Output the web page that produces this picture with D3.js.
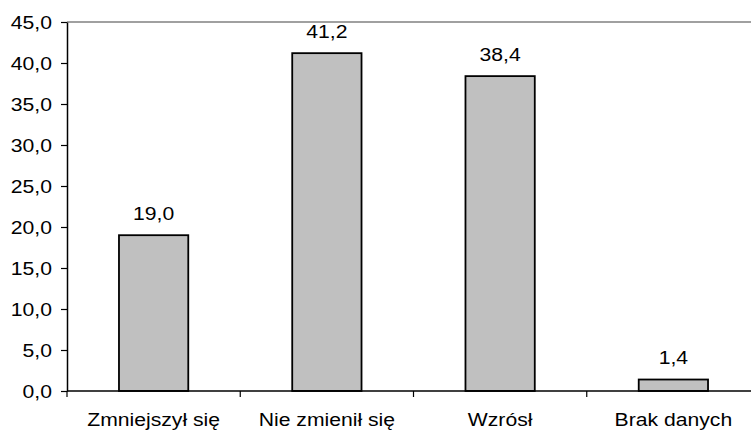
<!DOCTYPE html>
<html><head><meta charset="utf-8">
<script src="https://cdn.jsdelivr.net/npm/d3@7"></script>
<style>html,body{margin:0;padding:0;background:#fff;overflow:hidden}</style>
</head><body>
<svg id="c" width="751" height="431"></svg>
<script>
const categories = ["Zmniejszył się", "Nie zmienił się", "Wzrósł", "Brak danych"];
const values = [19.0, 41.2, 38.4, 1.4];
const yTicks = [0, 5, 10, 15, 20, 25, 30, 35, 40, 45];

const SX = 1.21, FS = 17.5, FONT = "'Liberation Sans', Arial, sans-serif";
const mLeft = 67, mRight = 760, mTop = 22, mBottom = 391;
const svg = d3.select("#c");
const loc = d3.formatLocale({decimal: ",", thousands: " ", grouping: [3], currency: ["", ""]});
const fmt = loc.format(".1f");

const x = d3.scaleBand().domain(categories).range([mLeft, mRight]).paddingInner(0.6).paddingOuter(0.3);
const xb = d3.scaleBand().domain(categories).range([mLeft, mRight]);
const y = d3.scaleLinear().domain([0, 45]).range([mBottom, mTop]);

// top border (gray)
svg.append("line").attr("x1", mLeft).attr("x2", mRight).attr("y1", y(45)).attr("y2", y(45))
  .attr("stroke", "#808080").attr("stroke-width", 1.5);

// y axis
const ya = svg.append("g").attr("transform", `translate(${mLeft},0)`)
  .call(d3.axisLeft(y).tickValues(yTicks).tickSize(6).tickSizeOuter(0).tickFormat(fmt));
ya.select(".domain").attr("stroke", "#000").attr("stroke-width", 1.5);
ya.selectAll(".tick line").attr("stroke", "#000").attr("stroke-width", 1.2);
ya.selectAll(".tick text").attr("x", 0).attr("dy", "0.36em")
  .attr("transform", `translate(-15,0) scale(${SX},1)`)
  .attr("font-family", FONT).attr("font-size", FS).attr("fill", "#000");

// bars
svg.append("g").selectAll("rect").data(values).join("rect")
  .attr("x", (d, i) => x(categories[i])).attr("width", x.bandwidth())
  .attr("y", d => y(d)).attr("height", d => y(0) - y(d))
  .attr("fill", "#c0c0c0").attr("stroke", "#000").attr("stroke-width", 1.8);

// x axis line
svg.append("line").attr("x1", mLeft).attr("x2", mRight).attr("y1", y(0)).attr("y2", y(0))
  .attr("stroke", "#000").attr("stroke-width", 1.5);
// boundary ticks
const bounds = categories.map(c => xb(c)).concat([xb(categories[categories.length - 1]) + xb.step()]);
svg.append("g").selectAll("line").data(bounds).join("line")
  .attr("x1", d => d).attr("x2", d => d).attr("y1", y(0)).attr("y2", y(0) + 6)
  .attr("stroke", "#000").attr("stroke-width", 1.2);

// category labels
svg.append("g").selectAll("text").data(categories).join("text")
  .attr("transform", d => `translate(${xb(d) + xb.bandwidth() / 2},${y(0) + 34.5}) scale(${SX},1)`)
  .attr("text-anchor", "middle").attr("font-family", FONT).attr("font-size", FS).attr("fill", "#000")
  .text(d => d);

// value labels
svg.append("g").selectAll("text").data(values).join("text")
  .attr("transform", (d, i) => `translate(${x(categories[i]) + x.bandwidth() / 2},${y(d) - 15.5}) scale(${SX},1)`)
  .attr("text-anchor", "middle").attr("font-family", FONT).attr("font-size", FS).attr("fill", "#000")
  .text(d => fmt(d));
</script>
</body></html>
